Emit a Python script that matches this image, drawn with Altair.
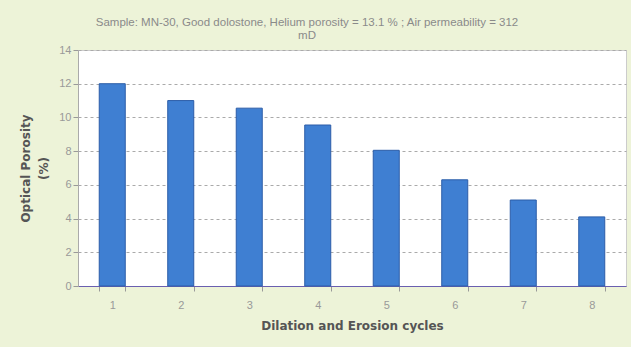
import altair as alt
import pandas as pd

cycles = ["1", "2", "3", "4", "5", "6", "7", "8"]
porosity = [12.0, 11.0, 10.55, 9.55, 8.05, 6.3, 5.1, 4.1]

df = pd.DataFrame({"cycle": cycles, "porosity": porosity})

bars = alt.Chart(df).mark_bar(
    color="#3f7fd2", stroke="#2c5da8", strokeWidth=1
).encode(
    x=alt.X("cycle:N", sort=cycles, title="Dilation and Erosion cycles",
            scale=alt.Scale(paddingInner=0.62, paddingOuter=0.31),
            axis=alt.Axis(labelAngle=0, tickBand="extent", domainColor="#6a5fb0",
                          tickColor="#999999", labelColor="#999999", labelFontSize=11,
                          labelPadding=8, titlePadding=10, titleFontSize=12,
                          titleFontWeight="bold", titleColor="#555555",
                          titleFont="DejaVu Sans", labelFont="Liberation Sans",
                          grid=False)),
    y=alt.Y("porosity:Q", title=["Optical Porosity", "(%)"],
            scale=alt.Scale(domain=[0, 14]),
            axis=alt.Axis(values=[0, 2, 4, 6, 8, 10, 12, 14], grid=True,
                          gridDash=[3, 3], gridColor="#aaaaaa", domainColor="#aaaaaa",
                          tickColor="#999999", labelColor="#999999", labelFontSize=11,
                          titleFontSize=12, titleFontWeight="bold", titleColor="#555555",
                          titleFont="DejaVu Sans", labelFont="Liberation Sans",
                          titleLineHeight=18, titlePadding=8)),
)

chart = bars.properties(
    width=548, height=236,
    title=alt.TitleParams(
        ["Sample: MN-30, Good dolostone, Helium porosity = 13.1 % ; Air permeability = 312", "mD"],
        fontSize=11.5, fontWeight="normal", color="#8a8a8a", font="Liberation Sans",
        anchor="middle", offset=3, lineHeight=13, dx=-45),
    autosize=alt.AutoSizeParams(type="none"),
    padding={"left": 78, "top": 50, "right": 5, "bottom": 61},
    background="#edf3d8",
).configure_view(fill="white", stroke="#cccccc")

chart.save("out.html", embed_options={"renderer": "svg", "actions": False})
